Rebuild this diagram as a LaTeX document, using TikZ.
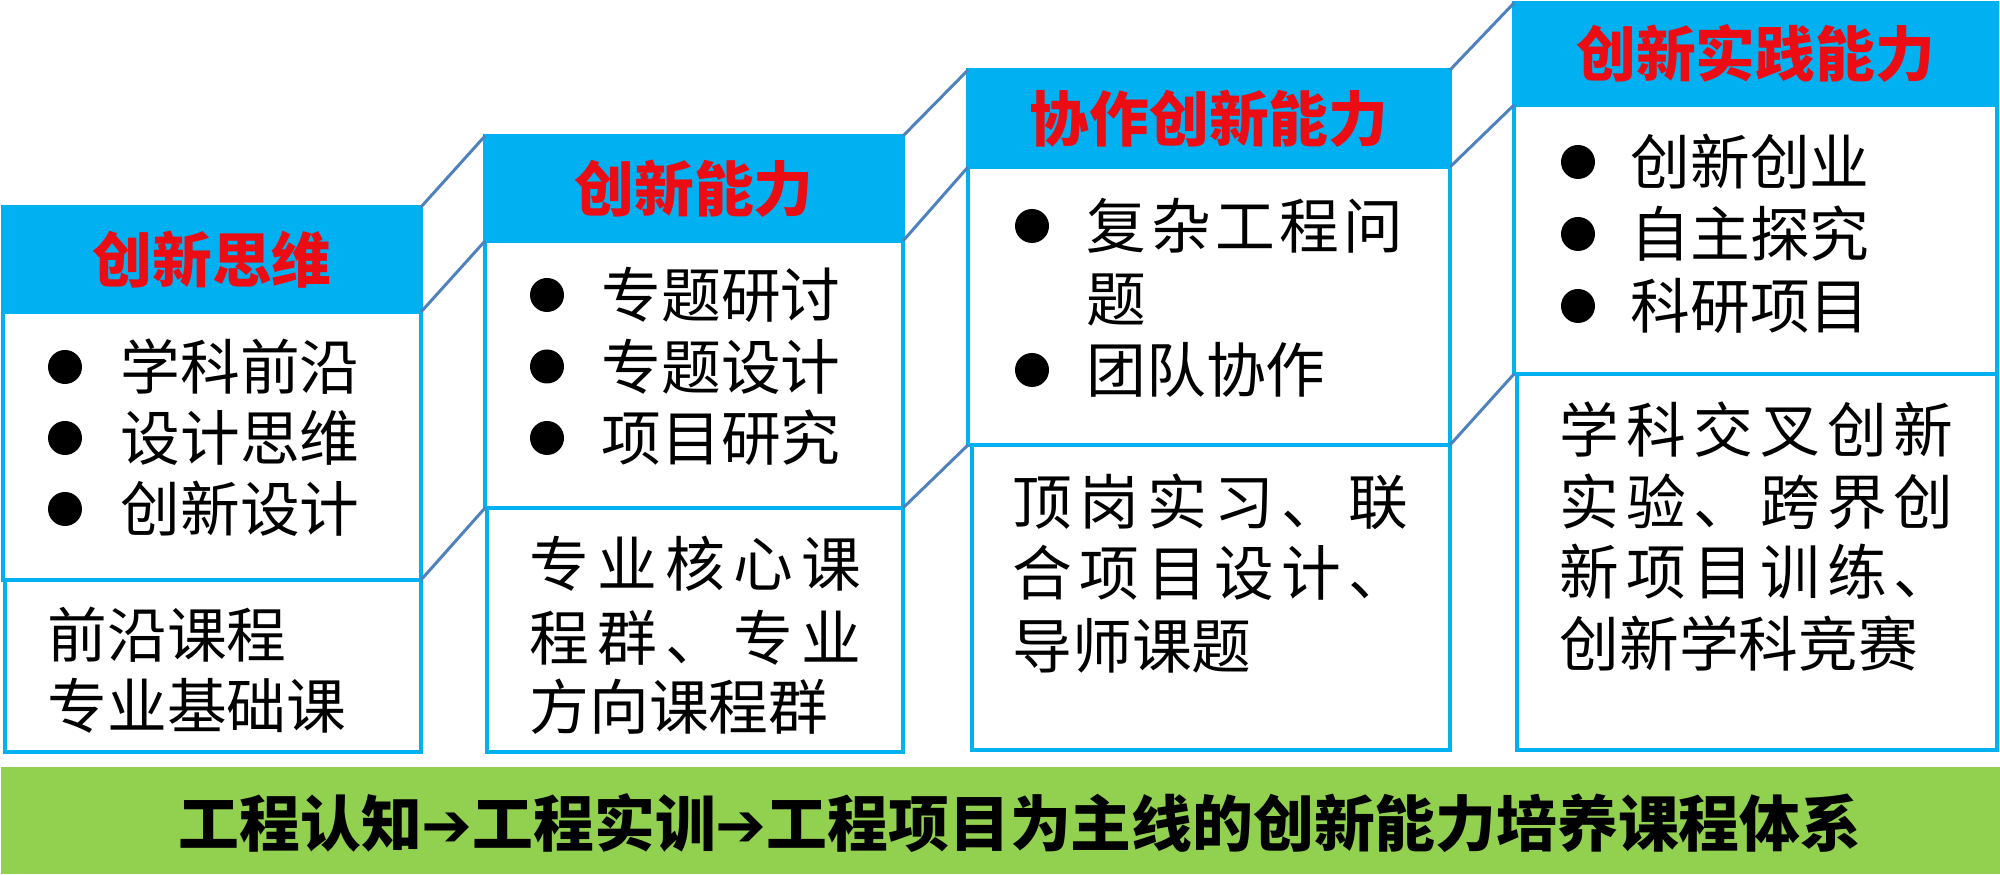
\documentclass[tikz,border=0pt]{standalone}
\usepackage{fontspec}
\setmainfont{Noto Sans CJK SC}
\newfontfamily\arrowfont{DejaVu Sans}
\usepackage{xcolor}
\usetikzlibrary{positioning}
\definecolor{headcyan}{RGB}{0,176,240}
\definecolor{linkblue}{RGB}{79,129,189}
\definecolor{titlered}{RGB}{236,12,20}
\definecolor{basegreen}{RGB}{146,208,80}
\newcommand{\stagearrow}{{\arrowfont\bfseries ➔}}
\tikzset{
  hdbox/.style={
    rectangle,
    fill=headcyan,
    draw=headcyan,
    line width=1.1pt,
    anchor=north west,
    inner sep=0pt,
    outer sep=0pt,
    text=titlered,
    font=\fontsize{17pt}{20pt}\selectfont\bfseries
  },
  midbox/.style={
    rectangle,
    draw=headcyan,
    fill=white,
    line width=1.1pt,
    anchor=north west,
    inner sep=0pt,
    outer sep=0pt
  },
  lowbox/.style={midbox},
  dot/.style={circle, fill=black, inner sep=0pt, minimum size=0.34cm},
  itemtext/.style={anchor=west, inner sep=0pt, font=\fontsize{17pt}{20pt}\selectfont},
  linkline/.style={draw=linkblue, line width=0.85pt},
  basebar/.style={
    rectangle,
    fill=basegreen,
    anchor=south west,
    inner sep=0pt,
    minimum width=20cm,
    minimum height=1.07cm
  }
}

\begin{document}
\begin{tikzpicture}
  \useasboundingbox (0,0) rectangle (20,8.75);

  % Stage 1
  \node[hdbox, minimum width=4.18cm, minimum height=1.05cm] (h1) at (0.03,6.68) {创新思维};
  \node[midbox, minimum width=4.18cm, minimum height=2.68cm] (m1) at (h1.south west) {};
  \node[lowbox, minimum width=4.16cm, minimum height=1.72cm] (l1) at ([xshift=0.02cm]m1.south west) {};
  \foreach \txt [count=\i] in {学科前沿,设计思维,创新设计} {
    \node[dot] (d1\i) at (0.65,{5.08-(\i-1)*0.71}) {};
    \node[itemtext] (t1\i) at (1.20,{5.08-(\i-1)*0.71}) {\txt};
  }
  \node[itemtext] (c11) at (0.47,2.40) {前沿课程};
  \node[itemtext] (c12) at (0.47,1.69) {专业基础课};

  % Stage 2
  \node[hdbox, minimum width=4.18cm, minimum height=1.05cm] (h2) at (4.85,7.39) {创新能力};
  \node[midbox, minimum width=4.18cm, minimum height=2.67cm] (m2) at (h2.south west) {};
  \node[lowbox, minimum width=4.16cm, minimum height=2.44cm] (l2) at ([xshift=0.02cm]m2.south west) {};
  \foreach \txt [count=\i] in {专题研讨,专题设计,项目研究} {
    \node[dot] (d2\i) at (5.47,{5.80-(\i-1)*0.715}) {};
    \node[itemtext] (t2\i) at (6.01,{5.80-(\i-1)*0.715}) {\txt};
  }
  \node[itemtext] (c21) at (5.29,3.11) {\makebox[3.32cm][s]{专\hfill 业\hfill 核\hfill 心\hfill 课}};
  \node[itemtext] (c22) at (5.29,2.37) {\makebox[3.32cm][s]{程\hfill 群\hfill 、\hfill 专\hfill 业}};
  \node[itemtext] (c23) at (5.29,1.68) {方向课程群};

  % Stage 3
  \node[hdbox, minimum width=4.82cm, minimum height=0.97cm] (h3) at (9.68,8.05) {协作创新能力};
  \node[midbox, minimum width=4.82cm, minimum height=2.78cm] (m3) at (h3.south west) {};
  \node[lowbox, minimum width=4.78cm, minimum height=3.05cm] (l3) at ([xshift=0.04cm]m3.south west) {};
  \node[dot] (d31) at (10.32,6.49) {};
  \node[itemtext] (t31) at (10.86,6.49) {\makebox[3.17cm][s]{复\hfill 杂\hfill 工\hfill 程\hfill 问}};
  \node[itemtext] (t32) at (10.86,5.75) {题};
  \node[dot] (d33) at (10.32,5.05) {};
  \node[itemtext] (t33) at (10.86,5.05) {团队协作};
  \node[itemtext] (c31) at (10.12,3.73) {\makebox[3.96cm][s]{顶\hfill 岗\hfill 实\hfill 习\hfill 、\hfill 联}};
  \node[itemtext] (c32) at (10.12,3.02) {\makebox[3.96cm][s]{合\hfill 项\hfill 目\hfill 设\hfill 计\hfill 、}};
  \node[itemtext] (c33) at (10.12,2.29) {导师课题};

  % Stage 4
  \node[hdbox, minimum width=4.83cm, minimum height=1.02cm] (h4) at (15.14,8.72) {创新实践能力};
  \node[midbox, minimum width=4.83cm, minimum height=2.69cm] (m4) at (h4.south west) {};
  \node[lowbox, minimum width=4.80cm, minimum height=3.76cm] (l4) at ([xshift=0.03cm]m4.south west) {};
  \foreach \txt [count=\i] in {创新创业,自主探究,科研项目} {
    \node[dot] (d4\i) at (15.78,{7.13-(\i-1)*0.72}) {};
    \node[itemtext] (t4\i) at (16.30,{7.13-(\i-1)*0.72}) {\txt};
  }
  \node[itemtext] (c41) at (15.59,4.45) {\makebox[3.94cm][s]{学\hfill 科\hfill 交\hfill 叉\hfill 创\hfill 新}};
  \node[itemtext] (c42) at (15.59,3.73) {\makebox[3.94cm][s]{实\hfill 验\hfill 、\hfill 跨\hfill 界\hfill 创}};
  \node[itemtext] (c43) at (15.59,3.03) {\makebox[3.94cm][s]{新\hfill 项\hfill 目\hfill 训\hfill 练\hfill 、}};
  \node[itemtext] (c44) at (15.59,2.31) {创新学科竞赛};

  % Steps between stages
  \foreach \a/\b in {1/2,2/3,3/4} {
    \draw[linkline] (h\a.north east) -- (h\b.north west);
    \draw[linkline] (h\a.south east) -- (h\b.south west);
    \draw[linkline] (m\a.south east) -- (m\b.south west);
  }

  % Base bar
  \node[basebar] (base) at (0,0) {};
  \node[font=\fontsize{17.3pt}{20pt}\selectfont\bfseries, inner sep=0pt] (basetxt) at (10.20,0.52)
    {工程认知\stagearrow 工程实训\stagearrow 工程项目为主线的创新能力培养课程体系};
\end{tikzpicture}
\end{document}
